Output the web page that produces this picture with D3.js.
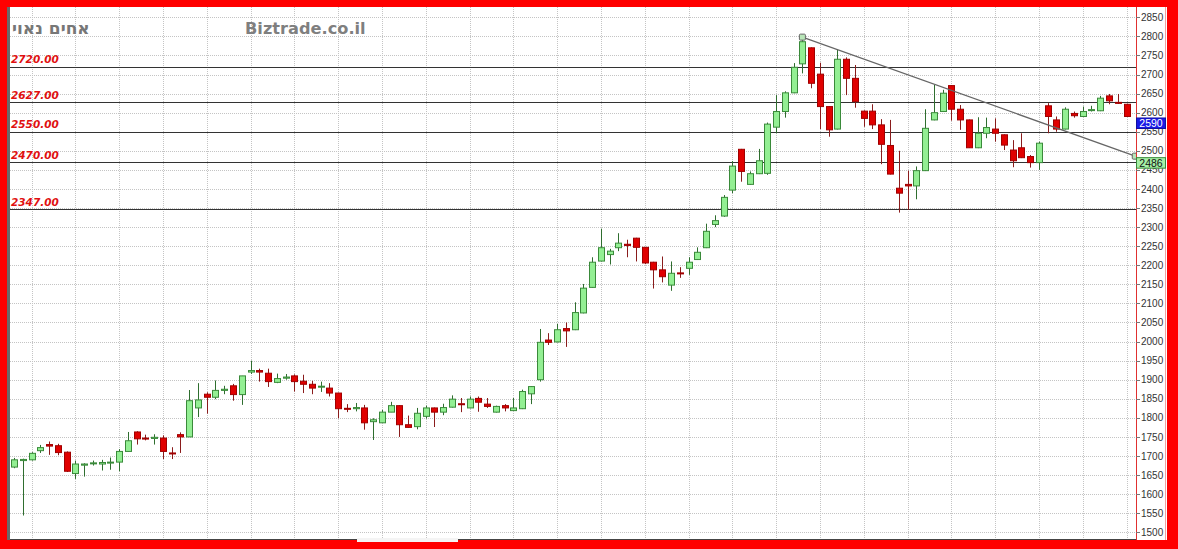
<!DOCTYPE html>
<html><head><meta charset="utf-8">
<script src="https://cdn.jsdelivr.net/npm/d3@7"></script>
<style>html,body{margin:0;padding:0;background:#fff;}svg{display:block;}</style>
</head><body>
<svg id="chart" width="1178" height="549"></svg>
<script>
// ---- data ----
const opens  = [1671,1688,1690,1714,1730,1727,1710,1654,1676,1680,1679,1683,1684,1712,1763,1747,1746,1747,1708,1756,
1750,1826,1862,1854,1872,1884,1861,1920,1924,1917,1893,1904,1910,1896,1888,1881,1878,1865,1825,1824,
1826,1790,1787,1815,1832,1782,1777,1804,1826,1815,1828,1837,1826,1851,1836,1815,1832,1819,1824,1863,
1900,2004,1999,2034,2031,2075,2142,2211,2228,2246,2255,2271,2247,2208,2188,2148,2180,2192,2215,2246,
2307,2329,2397,2504,2412,2440,2441,2562,2603,2652,2728,2770,2701,2616,2557,2740,2690,2604,2604,2568,
2514,2402,2412,2408,2448,2581,2603,2671,2609,2581,2508,2546,2557,2542,2502,2508,2485,2469,2618,2581,
2557,2598,2590,2606,2605,2644,2627,2622];
const highs  = [1695,1693,1710,1729,1738,1732,1712,1688,1681,1688,1690,1696,1718,1763,1765,1756,1757,1754,1723,1762,
1873,1891,1867,1898,1884,1889,1910,1950,1929,1929,1916,1915,1914,1913,1897,1895,1891,1866,1836,1839,
1834,1799,1821,1842,1833,1806,1826,1832,1827,1837,1859,1852,1856,1856,1852,1832,1836,1852,1874,1883,
2033,2022,2046,2050,2103,2151,2221,2296,2243,2284,2267,2272,2248,2209,2223,2210,2195,2221,2247,2309,
2331,2384,2473,2505,2446,2505,2574,2646,2656,2730,2804,2771,2731,2617,2766,2745,2725,2606,2622,2583,
2581,2500,2448,2459,2609,2673,2660,2672,2620,2582,2588,2587,2585,2543,2528,2546,2489,2524,2625,2590,
2614,2603,2616,2618,2644,2649,2649,2623];
const lows   = [1668,1544,1688,1708,1703,1702,1658,1640,1646,1675,1662,1664,1660,1712,1730,1741,1730,1692,1692,1708,
1750,1802,1811,1849,1862,1845,1834,1915,1895,1881,1891,1900,1869,1865,1862,1868,1856,1799,1815,1817,
1769,1742,1787,1815,1750,1774,1770,1798,1776,1807,1827,1815,1825,1816,1826,1814,1817,1818,1823,1836,
1895,1991,1998,1986,2030,2074,2141,2210,2202,2237,2221,2210,2203,2139,2155,2133,2167,2175,2214,2245,
2300,2327,2389,2419,2411,2439,2437,2546,2587,2651,2703,2664,2557,2537,2556,2646,2613,2563,2557,2465,
2438,2338,2345,2373,2447,2580,2602,2579,2555,2508,2507,2533,2524,2502,2457,2481,2456,2450,2546,2550,
2556,2587,2589,2603,2604,2622,2623,2589];
const closes = [1690,1691,1707,1722,1726,1709,1660,1679,1679,1682,1683,1684,1712,1740,1745,1746,1749,1712,1707,1750,
1845,1847,1854,1872,1875,1861,1910,1924,1920,1895,1903,1907,1895,1888,1878,1883,1865,1824,1823,1827,
1787,1795,1815,1832,1782,1775,1812,1826,1815,1827,1849,1835,1849,1841,1830,1830,1826,1826,1869,1882,
1998,1998,2031,2028,2076,2140,2208,2246,2237,2258,2252,2247,2206,2188,2170,2179,2178,2208,2234,2289,
2317,2378,2460,2446,2440,2474,2570,2603,2652,2719,2786,2677,2616,2555,2740,2690,2629,2585,2568,2517,
2439,2389,2408,2448,2559,2600,2651,2609,2581,2508,2546,2561,2546,2515,2474,2482,2469,2520,2590,2557,
2609,2592,2603,2608,2638,2631,2625,2590];
const levels = [2720, 2627, 2550, 2470, 2347];
const yTicks = d3.range(1500, 2851, 50);
const trend = [{i: 90, v: 2798}, {i: 128, v: 2486}];
const lastPrice = 2590;
const trendEndLabel = 2486;
const titleHe = "אחים נאוי";
const siteName = "Biztrade.co.il";

const candles = opens.map((o, i) => ({i, o, h: highs[i], l: lows[i], c: closes[i]}));

// ---- layout ----
const svg = d3.select("#chart");
const W = 1178, H = 549;
const plotL = 10, plotR = 1136, plotT = 7, plotB = 539.5;
const x = d3.scaleLinear().domain([0, 128]).range([14, 14 + 8.76 * 128]);
const y = d3.scaleLinear().domain([1500, 2850]).range([532.3, 17.3]);

// frame
svg.append("rect").attr("width", W).attr("height", H).attr("fill", "#ff0000");
svg.append("rect").attr("x", 7).attr("y", 7).attr("width", 1160).attr("height", 533).attr("fill", "#fff");
svg.append("rect").attr("x", 7).attr("y", 7).attr("width", 3).attr("height", 533).attr("fill", "#6a6a6a");

// grid
const grid = svg.append("g");
grid.selectAll("line.h").data(yTicks).join("line")
  .attr("x1", plotL).attr("x2", plotR)
  .attr("y1", d => Math.round(y(d)) + 0.5).attr("y2", d => Math.round(y(d)) + 0.5)
  .attr("stroke", "#c4c4c4").attr("stroke-dasharray", "1,1");
grid.selectAll("line.v").data(d3.range(2, 128, 5)).join("line")
  .attr("x1", d => Math.round(x(d)) + 0.5).attr("x2", d => Math.round(x(d)) + 0.5)
  .attr("y1", plotT).attr("y2", plotB)
  .attr("stroke", "#c4c4c4").attr("stroke-dasharray", "1,1");

// levels
svg.append("g").selectAll("line").data(levels).join("line")
  .attr("x1", plotL).attr("x2", plotR)
  .attr("y1", d => Math.round(y(d)) + 0.5).attr("y2", d => Math.round(y(d)) + 0.5)
  .attr("stroke", "#333").attr("stroke-width", 1);
svg.append("g").selectAll("text").data(levels).join("text")
  .attr("x", 11).attr("y", d => y(d) - 3.5)
  .attr("fill", "#e01010").attr("font-family", "DejaVu Sans")
  .attr("font-weight", "bold").attr("font-style", "italic").attr("font-size", 10.5)
  .text(d => d.toFixed(2));

// header texts
svg.append("text").attr("x", 12).attr("y", 34).attr("fill", "#777")
  .attr("font-family", "DejaVu Sans").attr("font-weight", "bold").attr("font-size", 17).text(titleHe);
svg.append("text").attr("x", 245).attr("y", 34).attr("fill", "#7f7f7f")
  .attr("font-family", "DejaVu Sans").attr("font-weight", "bold").attr("font-size", 16.2).text(siteName);

// bottom line / scrollbar
svg.append("line").attr("x1", plotL).attr("x2", plotR).attr("y1", 539.5).attr("y2", 539.5).attr("stroke", "#444");
svg.append("rect").attr("x", 357).attr("y", 538).attr("width", 101).attr("height", 4).attr("fill", "#f4f4f4");

// candles
const cg = svg.append("g");
const bw = 6;
cg.selectAll("line.wick").data(candles).join("line")
  .attr("x1", d => Math.round(x(d.i)) + 0.5).attr("x2", d => Math.round(x(d.i)) + 0.5)
  .attr("y1", d => y(d.h)).attr("y2", d => y(d.l))
  .attr("stroke", d => d.c >= d.o ? "#2f6e2f" : "#8a1c1c").attr("stroke-width", 1);
cg.selectAll("rect.body").data(candles).join("rect")
  .attr("x", d => Math.round(x(d.i)) - bw / 2 + 0.5)
  .attr("y", d => y(Math.max(d.o, d.c)))
  .attr("width", bw)
  .attr("height", d => Math.max(1, Math.abs(y(d.o) - y(d.c))))
  .attr("fill", d => d.c >= d.o ? "#93ef93" : "#e00000")
  .attr("stroke", d => d.c >= d.o ? "#3a8a3a" : "#a00000").attr("stroke-width", 1);

// trend line
svg.append("line")
  .attr("x1", x(trend[0].i)).attr("y1", y(trend[0].v))
  .attr("x2", x(trend[1].i)).attr("y2", y(trend[1].v))
  .attr("stroke", "#666").attr("stroke-width", 1.2);
svg.append("g").selectAll("rect").data(trend).join("rect")
  .attr("x", d => x(d.i) - 3).attr("y", d => y(d.v) - 3).attr("width", 6).attr("height", 6).attr("rx", 1)
  .attr("fill", "#b8e6b8").attr("stroke", "#666");

// right axis
svg.append("rect").attr("x", plotR).attr("y", 7).attr("width", 31).attr("height", 533).attr("fill", "#fff");
svg.append("line").attr("x1", plotR + 0.5).attr("x2", plotR + 0.5).attr("y1", 7).attr("y2", 540).attr("stroke", "#e03030");
svg.append("line").attr("x1", 1165.5).attr("x2", 1165.5).attr("y1", 7).attr("y2", 540).attr("stroke", "#f0a0a0");
const ax = svg.append("g");
ax.selectAll("line").data(yTicks).join("line")
  .attr("x1", plotR).attr("x2", plotR + 4)
  .attr("y1", d => Math.round(y(d)) + 0.5).attr("y2", d => Math.round(y(d)) + 0.5)
  .attr("stroke", "#777");
ax.selectAll("text").data(yTicks).join("text")
  .attr("x", 1141).attr("y", d => y(d) + 3.6)
  .attr("font-family", "Liberation Sans").attr("font-size", 10).attr("fill", "#333")
  .text(d => d);

// price boxes
function box(v, fill, stroke, tc) {
  const g = svg.append("g");
  g.append("rect").attr("x", plotR + 0.5).attr("y", y(v) + 1.5).attr("width", 29).attr("height", 10.5)
    .attr("fill", fill).attr("stroke", stroke);
  g.append("text").attr("x", plotR + 15).attr("y", y(v) + 10.5).attr("text-anchor", "middle")
    .attr("font-family", "Liberation Sans").attr("font-size", 10.5).attr("fill", tc).text(v);
}
box(lastPrice, "#1a1ae6", "#1010a0", "#fff");
box(trendEndLabel, "#a6f0a6", "#3a8a3a", "#111");
</script>
</body></html>
